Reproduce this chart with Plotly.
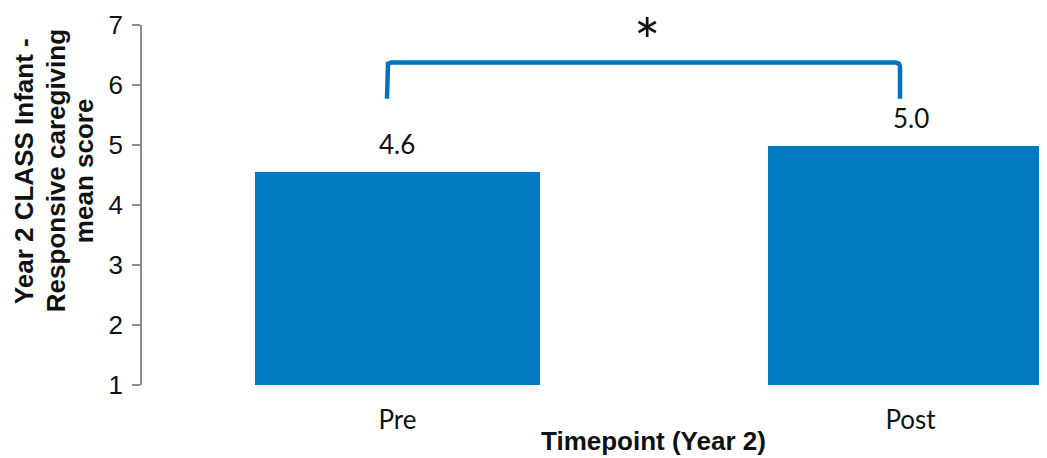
import plotly.graph_objects as go

categories = ["Pre", "Post"]
positions = [0, 1]
values = [4.55, 4.98]
value_labels = ["4.6", "5.0"]
y_ticks = [1, 2, 3, 4, 5, 6, 7]

bracket_x = [-0.0205, -0.0205, -0.0185, -0.0125, 0.9715, 0.9775, 0.9795, 0.9795]
bracket_y = [5.77, 6.31, 6.355, 6.375, 6.375, 6.355, 6.31, 5.77]
sig_x = 0.486
sig_y = 6.88
sig_label = "*"

y_title_lines = ["Year 2 CLASS Infant -", "Responsive caregiving", "mean score"]
y_title_shift = [-118, -86, -58]
x_title = "Timepoint (Year 2)"

BLUE = "#007AC2"
GRAY = "#8C8C8C"
INK = "#111111"

fig = go.Figure()
fig.add_trace(go.Bar(x=positions, y=[v - 1 for v in values], base=1, width=0.556,
                     marker=dict(color=BLUE, line=dict(width=0)),
                     hoverinfo="skip", showlegend=False))
fig.add_trace(go.Scatter(x=bracket_x, y=bracket_y, mode="lines",
                         line=dict(color="#0072C4", width=4.5),
                         hoverinfo="skip", showlegend=False))

for x, v, t in zip(positions, values, value_labels):
    fig.add_annotation(x=x, y=v, text=t, showarrow=False, yanchor="middle",
                       yshift=28, font=dict(family="Lato", size=26, color=INK))

fig.add_annotation(x=sig_x, y=sig_y, text=sig_label, showarrow=False,
                   yanchor="middle", yshift=-8,
                   font=dict(family="Lato", size=62, color=INK))

for line, shift in zip(y_title_lines, y_title_shift):
    fig.add_annotation(xref="paper", yref="paper", x=0, y=0.594, xshift=shift,
                       text="<b>" + line + "</b>", textangle=-90, showarrow=False,
                       xanchor="center", yanchor="middle",
                       font=dict(family="Liberation Sans", size=26, color=INK))

fig.add_annotation(xref="paper", yref="paper", x=0.565, y=0, yshift=-56,
                   text="<b>" + x_title + "</b>", showarrow=False, yanchor="middle",
                   font=dict(family="Liberation Sans", size=26, color=INK))

fig.update_layout(
    width=1039, height=450,
    margin=dict(l=134, r=0, t=17, b=73),
    paper_bgcolor="white", plot_bgcolor="white",
    bargap=0,
    xaxis=dict(range=[-0.498, 1.266], tickvals=positions, ticktext=categories,
               showline=False, showgrid=False, zeroline=False, ticks="",
               ticklabelstandoff=17,
               tickfont=dict(family="Lato", size=26, color=INK)),
    yaxis=dict(range=[1, 7], tickvals=y_ticks, showgrid=False, zeroline=False,
               showline=True, linecolor=GRAY, linewidth=1.5,
               ticks="outside", ticklen=8, tickcolor=GRAY, tickwidth=1.5,
               ticklabelstandoff=4,
               tickfont=dict(family="Liberation Sans", size=26, color=INK)),
)

fig.write_html("out.html")
